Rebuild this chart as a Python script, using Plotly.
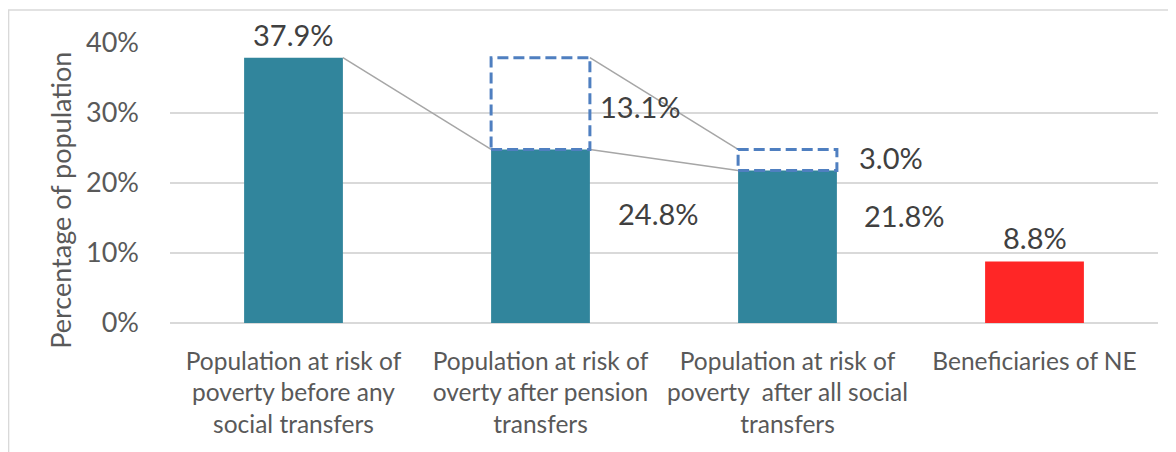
import plotly.graph_objects as go

# ---- data ----
categories = [
    "Population at risk of<br>poverty before any<br>social transfers",
    "Population at risk of<br>overty after pension<br>transfers",
    "Population at risk of<br>poverty  after all social<br>transfers",
    "Beneficiaries of NE",
]
base_values = [37.9, 24.8, 21.8, 8.8]        # solid bars
reduction_values = [0.0, 13.1, 3.0, 0.0]     # dashed (reduction) segments
y_ticks = [0, 10, 20, 30, 40]
y_tick_labels = ["0%", "10%", "20%", "30%", "40%"]
y_title = "Percentage of population"

bar_colors = ["#31859C", "#31859C", "#31859C", "#FF2626"]
BAR_W = 0.4
FONT = "Lato, 'Open Sans', sans-serif"
xs = list(range(len(categories)))

fig = go.Figure()

fig.add_trace(go.Bar(
    x=xs, y=base_values, width=BAR_W,
    marker=dict(color=bar_colors, line=dict(width=0)),
    showlegend=False, hoverinfo="skip",
))

# dashed boxes for the reduction segments
for i, (b, r) in enumerate(zip(base_values, reduction_values)):
    if r > 0:
        fig.add_shape(type="rect", xref="x", yref="y",
                      x0=i - BAR_W / 2, x1=i + BAR_W / 2, y0=b, y1=b + r,
                      line=dict(color="#4F7FC0", width=3, dash="11px,5px"),
                      fillcolor="rgba(0,0,0,0)", layer="above")

# connector lines
tops = [b + r for b, r in zip(base_values, reduction_values)]
connectors = [
    ((0, tops[0]), (1, base_values[1])),
    ((1, tops[1]), (2, base_values[1])),
    ((1, base_values[1]), (2, base_values[2])),
]
for (xa, ya), (xb, yb) in connectors:
    fig.add_trace(go.Scatter(
        x=[xa + BAR_W / 2, xb - BAR_W / 2], y=[ya, yb], mode="lines",
        line=dict(color="#A6A6A6", width=1.5), showlegend=False, hoverinfo="skip",
    ))

lab_font = dict(family=FONT, size=29, color="#404040")
anns = [
    # (text, x, y, xanchor, xshift, yshift)
    (f"{base_values[0]:.1f}%", 0, base_values[0], "center", 0, 23),
    (f"{reduction_values[1]:.1f}%", 1 + BAR_W / 2, 30.9, "left", 8, 0),
    (f"{base_values[1]:.1f}%", 1 + BAR_W / 2, 15.6, "left", 26, 0),
    (f"{reduction_values[2]:.1f}%", 2 + BAR_W / 2, 23.6, "left", 20, 0),
    (f"{base_values[2]:.1f}%", 2 + BAR_W / 2, 15.3, "left", 25, 0),
    (f"{base_values[3]:.1f}%", 3, base_values[3], "center", 0, 24),
]
for t, x, y, xa, xs_, ys_ in anns:
    fig.add_annotation(text=t, x=x, y=y, xref="x", yref="y", xanchor=xa,
                       yanchor="middle", xshift=xs_, yshift=ys_,
                       showarrow=False, font=lab_font)

# y-axis title (placed like the original, slightly below the plot centre)
fig.add_annotation(text=y_title, textangle=-90, xref="paper", yref="paper",
                   x=-0.1103, y=0.4367, xanchor="center", yanchor="middle",
                   showarrow=False, font=dict(family=FONT, size=27, color="#595959"))

# outer chart border (top and left visible)
fig.add_shape(type="rect", xref="paper", yref="paper",
              x0=-0.1634, x1=1.05, y0=-0.5, y1=1.1176,
              line=dict(color="#D9D9D9", width=1.5), layer="below")

fig.update_layout(
    width=1168, height=444,
    margin=dict(l=162, r=17.5, t=35, b=128.5),
    paper_bgcolor="white", plot_bgcolor="white",
    bargap=0.6, showlegend=False,
    font=dict(family=FONT, color="#595959"),
    xaxis=dict(
        tickmode="array", tickvals=xs, ticktext=categories,
        range=[-0.5, len(categories) - 0.5], automargin=False,
        showgrid=False, zeroline=False, showline=False,
        tickfont=dict(family=FONT, size=24.5, color="#595959"),
        ticks="", ticklabelstandoff=21,
    ),
    yaxis=dict(
        range=[0, 40], tickvals=y_ticks, ticktext=y_tick_labels,
        automargin=False,
        showgrid=True, gridcolor="#D9D9D9", gridwidth=1.5,
        zeroline=True, zerolinecolor="#D9D9D9", zerolinewidth=1.5,
        showline=False, ticks="", ticklabelstandoff=30,
        tickfont=dict(family=FONT, size=27, color="#595959"),
    ),
)

fig.write_html("out.html")
